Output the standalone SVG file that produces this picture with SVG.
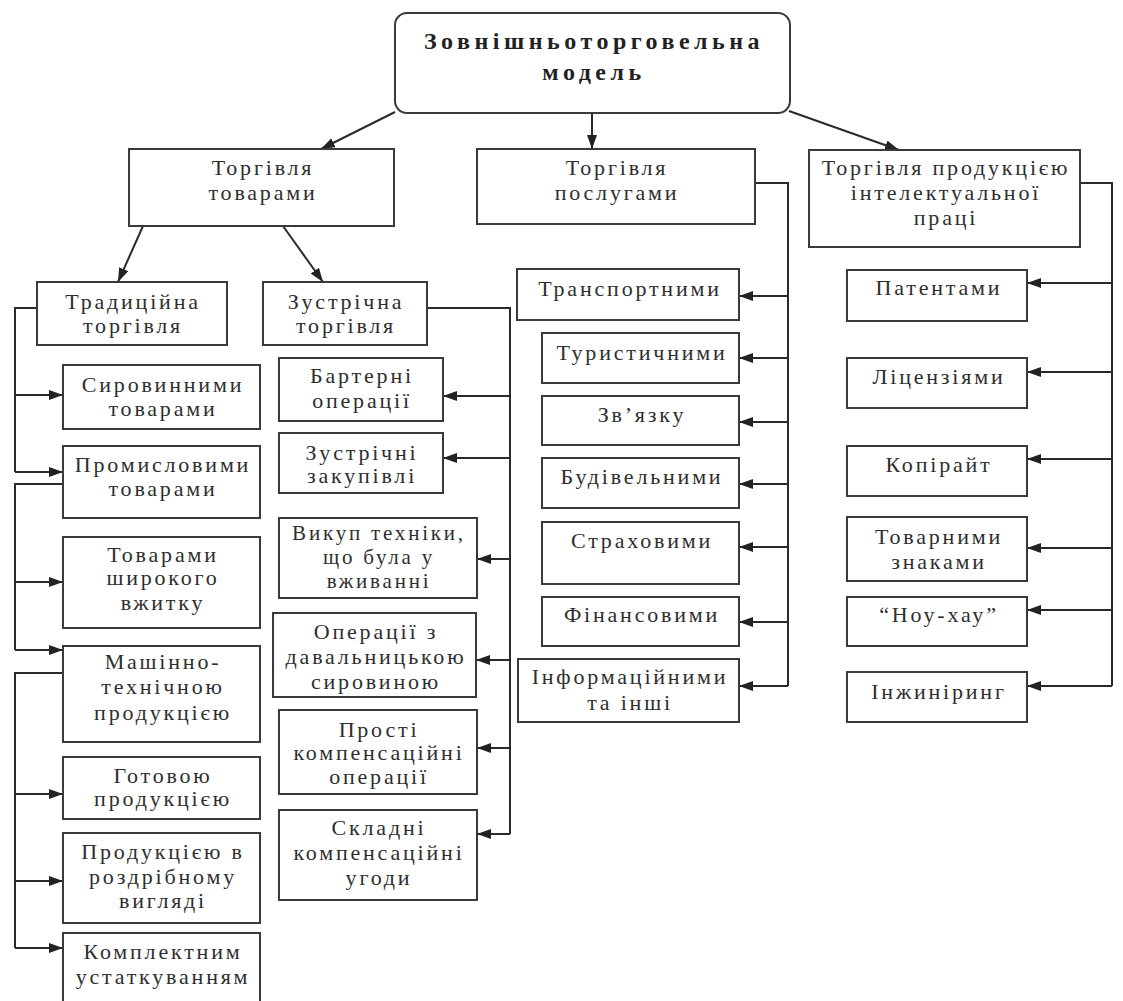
<svg xmlns="http://www.w3.org/2000/svg" width="1123" height="1001" viewBox="0 0 1123 1001">
<defs>
<style>
.box{fill:#fff;stroke:#3a3a3a;stroke-width:2}
.t{font-family:"Liberation Serif","Times New Roman",serif;font-size:22px;fill:#2e2e2e;text-anchor:middle;letter-spacing:2.8px}
.s{font-size:21px}
.b{font-family:"Liberation Serif","Times New Roman",serif;font-size:24px;font-weight:bold;fill:#222;text-anchor:middle;letter-spacing:4.5px}
.ln{fill:none;stroke:#2a2a2a;stroke-width:2}
.ar{fill:none;stroke:#2a2a2a;stroke-width:2;marker-end:url(#ah)}
</style>
<marker id="ah" markerUnits="userSpaceOnUse" viewBox="0 0 14 10" refX="14" refY="5" markerWidth="14" markerHeight="10" orient="auto">
<path d="M0,0 L14,5 L0,10 z" fill="#222"/>
</marker>
</defs>
<rect width="1123" height="1001" fill="#fff"/>

<g id="connectors">
<path class="ar" d="M395,112 L321,149"/>
<path class="ar" d="M592,113 L592,149"/>
<path class="ar" d="M789,111 L899,150"/>
<path class="ar" d="M143,226 L118,282"/>
<path class="ar" d="M283,226 L323,282"/>
<path class="ln" d="M37,308 L15,308 L15,472"/>
<path class="ar" d="M15,395 L63,395"/>
<path class="ar" d="M15,472 L63,472"/>
<path class="ln" d="M63,484 L15,484 L15,650"/>
<path class="ar" d="M15,582 L63,582"/>
<path class="ar" d="M15,650 L63,650"/>
<path class="ln" d="M63,673 L15,673 L15,948"/>
<path class="ar" d="M15,794 L63,794"/>
<path class="ar" d="M15,881 L63,881"/>
<path class="ar" d="M15,948 L63,948"/>
<path class="ln" d="M427,308 L510,308 L510,834"/>
<path class="ar" d="M510,396 L443,396"/>
<path class="ar" d="M510,458 L443,458"/>
<path class="ar" d="M510,559 L477,559"/>
<path class="ar" d="M510,660 L476,660"/>
<path class="ar" d="M510,748 L477,748"/>
<path class="ar" d="M510,834 L477,834"/>
<path class="ln" d="M755,183 L788,183 L788,686"/>
<path class="ar" d="M788,296 L739,296"/>
<path class="ar" d="M788,358 L739,358"/>
<path class="ar" d="M788,422 L739,422"/>
<path class="ar" d="M788,484 L739,484"/>
<path class="ar" d="M788,547 L739,547"/>
<path class="ar" d="M788,622 L739,622"/>
<path class="ar" d="M788,686 L739,686"/>
<path class="ln" d="M1080,183 L1112,183 L1112,686"/>
<path class="ar" d="M1112,283 L1027,283"/>
<path class="ar" d="M1112,372 L1027,372"/>
<path class="ar" d="M1112,459 L1027,459"/>
<path class="ar" d="M1112,548 L1027,548"/>
<path class="ar" d="M1112,610 L1027,610"/>
<path class="ar" d="M1112,686 L1027,686"/>
</g>

<g id="root"><rect class="box" x="395" y="13" width="395" height="100" rx="12"/>
<text class="b" x="594" y="49">Зовнішньоторговельна</text><text class="b" x="594" y="80">модель</text></g>

<g id="goods"><rect class="box" x="129" y="149" width="265" height="77"/>
<text class="t" x="263" y="175">Торгівля</text><text class="t" x="263" y="200">товарами</text></g>
<g id="services"><rect class="box" x="477" y="149" width="278" height="75"/>
<text class="t" x="617" y="175">Торгівля</text><text class="t" x="617" y="200">послугами</text></g>
<g id="intellect"><rect class="box" x="809" y="150" width="271" height="97"/>
<text class="t" x="946" y="175">Торгівля продукцією</text><text class="t" x="946" y="200">інтелектуальної</text><text class="t" x="946" y="225">праці</text></g>

<g id="traditional"><rect class="box" x="37" y="282" width="190" height="63"/>
<text class="t" x="133" y="309">Традиційна</text><text class="t" x="133" y="333">торгівля</text></g>
<g id="counter"><rect class="box" x="263" y="282" width="164" height="63"/>
<text class="t" x="346" y="309">Зустрічна</text><text class="t" x="346" y="333">торгівля</text></g>

<g id="raw"><rect class="box" x="63" y="365" width="197" height="64"/>
<text class="t" x="163" y="392">Сировинними</text><text class="t" x="163" y="416">товарами</text></g>
<g id="industrial"><rect class="box" x="63" y="446" width="197" height="72"/>
<text class="t" x="163" y="472">Промисловими</text><text class="t" x="163" y="496">товарами</text></g>
<g id="consumer"><rect class="box" x="63" y="537" width="197" height="91"/>
<text class="t" x="163" y="562">Товарами</text><text class="t" x="163" y="585">широкого</text><text class="t" x="163" y="610">вжитку</text></g>
<g id="machine"><rect class="box" x="63" y="646" width="197" height="96"/>
<text class="t" x="163" y="669">Машінно-</text><text class="t" x="163" y="694">технічною</text><text class="t" x="163" y="720">продукцією</text></g>
<g id="finished"><rect class="box" x="63" y="757" width="197" height="62"/>
<text class="t" x="163" y="783">Готовою</text><text class="t" x="163" y="806">продукцією</text></g>
<g id="retail"><rect class="box" x="63" y="833" width="197" height="90"/>
<text class="t" x="163" y="859">Продукцією в</text><text class="t" x="163" y="884">роздрібному</text><text class="t" x="163" y="908">вигляді</text></g>
<g id="complete"><rect class="box" x="63" y="933" width="197" height="70"/>
<text class="t" x="163" y="959">Комплектним</text><text class="t" x="163" y="984">устаткуванням</text></g>

<g id="barter"><rect class="box" x="279" y="358" width="164" height="63"/>
<text class="t" x="362" y="383">Бартерні</text><text class="t" x="362" y="408">операції</text></g>
<g id="counterpurchase"><rect class="box" x="279" y="433" width="164" height="60"/>
<text class="t" x="362" y="460">Зустрічні</text><text class="t" x="362" y="483">закупівлі</text></g>
<g id="buyback"><rect class="box" x="279" y="518" width="198" height="80"/>
<text class="t s" x="379" y="540">Викуп техніки,</text><text class="t s" x="379" y="564">що була у</text><text class="t s" x="379" y="588">вживанні</text></g>
<g id="tolling"><rect class="box" x="273" y="613" width="203" height="84"/>
<text class="t" x="376" y="639">Операції з</text><text class="t" x="376" y="664">давальницькою</text><text class="t" x="376" y="689">сировиною</text></g>
<g id="simplecomp"><rect class="box" x="279" y="710" width="198" height="84"/>
<text class="t" x="379" y="737">Прості</text><text class="t" x="379" y="760">компенсаційні</text><text class="t" x="379" y="784">операції</text></g>
<g id="complexcomp"><rect class="box" x="279" y="810" width="198" height="90"/>
<text class="t" x="379" y="835">Складні</text><text class="t" x="379" y="860">компенсаційні</text><text class="t" x="379" y="885">угоди</text></g>

<g id="transport"><rect class="box" x="517" y="269" width="222" height="51"/>
<text class="t" x="630" y="296">Транспортними</text></g>
<g id="tourist"><rect class="box" x="542" y="333" width="197" height="50"/>
<text class="t" x="642" y="360">Туристичними</text></g>
<g id="comm"><rect class="box" x="542" y="396" width="197" height="49"/>
<text class="t" x="642" y="422">Зв’язку</text></g>
<g id="construction"><rect class="box" x="542" y="458" width="197" height="50"/>
<text class="t" x="642" y="484">Будівельними</text></g>
<g id="insurance"><rect class="box" x="542" y="522" width="197" height="62"/>
<text class="t" x="642" y="548">Страховими</text></g>
<g id="financial"><rect class="box" x="542" y="597" width="197" height="49"/>
<text class="t" x="642" y="622">Фінансовими</text></g>
<g id="info"><rect class="box" x="518" y="659" width="221" height="63"/>
<text class="t" x="630" y="684">Інформаційними</text><text class="t" x="630" y="710">та інші</text></g>

<g id="patents"><rect class="box" x="847" y="270" width="180" height="51"/>
<text class="t" x="939" y="295">Патентами</text></g>
<g id="licenses"><rect class="box" x="847" y="358" width="180" height="50"/>
<text class="t" x="939" y="384">Ліцензіями</text></g>
<g id="copyright"><rect class="box" x="847" y="446" width="180" height="50"/>
<text class="t" x="939" y="472">Копірайт</text></g>
<g id="trademarks"><rect class="box" x="847" y="517" width="180" height="64"/>
<text class="t" x="939" y="544">Товарними</text><text class="t" x="939" y="569">знаками</text></g>
<g id="knowhow"><rect class="box" x="847" y="597" width="180" height="49"/>
<text class="t" x="939" y="622">“Ноу-хау”</text></g>
<g id="engineering"><rect class="box" x="847" y="672" width="180" height="50"/>
<text class="t" x="939" y="699">Інжиніринг</text></g>
</svg>
